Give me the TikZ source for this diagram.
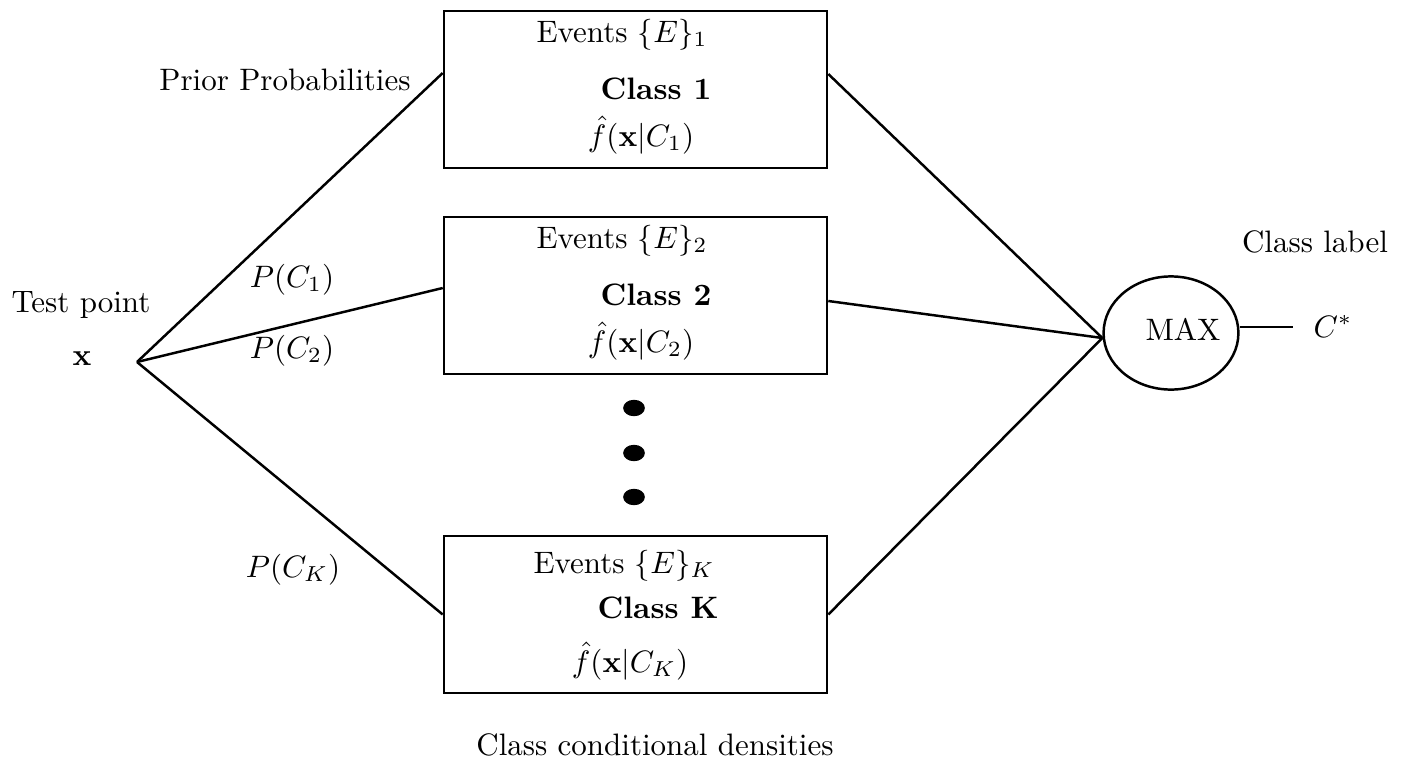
\documentclass[tikz,border=0pt]{standalone}
\usetikzlibrary{shapes.geometric,calc}
\begin{document}
\begin{tikzpicture}[x=0.3226pt,y=-0.3226pt,
  line width=0.8pt,
  classbox/.style={draw,rectangle,minimum width=123.6pt,minimum height=50.6pt,inner sep=0pt},
  lbl/.style={inner sep=0pt,anchor=base},
  dotmark/.style={ellipse,fill=black,inner sep=0pt,minimum width=7pt,minimum height=5.3pt},
  wire/.style={line width=0.8pt}]
\useasboundingbox (0,0) rectangle (1410,766);

% class boxes
\node[classbox] (b1) at (635.5,89.5) {};
\node[classbox] (b2) at (635.5,295.5) {};
\node[classbox] (bK) at (635.5,614.5) {};

% box contents
\node[lbl] (e1) at (622,42) {Events $\{E\}_1$};
\node[lbl] (c1) at (656,99) {\textbf{Class 1}};
\node[lbl] (f1) at (641,146) {$\hat f(\mathbf{x}|C_1)$};

\node[lbl] (e2) at (622,248) {Events $\{E\}_2$};
\node[lbl] (c2) at (656,305) {\textbf{Class 2}};
\node[lbl] (f2) at (641,352) {$\hat f(\mathbf{x}|C_2)$};

\node[lbl] (eK) at (624,573) {Events $\{E\}_K$};
\node[lbl] (cK) at (658,618) {\textbf{Class K}};
\node[lbl] (fK) at (630,672) {$\hat f(\mathbf{x}|C_K)$};

% ellipsis between the boxes
\node[dotmark] (d1) at (634,408) {};
\node[dotmark] (d2) at (634,453) {};
\node[dotmark] (d3) at (634,497) {};

% max selector
\node[draw,ellipse,minimum width=43.5pt,minimum height=36.5pt,inner sep=0pt] (m) at (1171,333) {};
\node[lbl] (mt) at (1183,340) {MAX};

% labels
\node[lbl] (prior) at (285,90) {Prior Probabilities};
\node[lbl] (tp) at (81,312) {Test point};
\node[lbl] (xv) at (82,365) {$\mathbf{x}$};
\node[lbl] (p1) at (292,287) {$P(C_1)$};
\node[lbl] (p2) at (292,358) {$P(C_2)$};
\node[lbl] (pK) at (293,577) {$P(C_K)$};
\node[lbl] (cl) at (1315,252) {Class label};
\node[lbl] (cs) at (1333,337) {$C^*$};
\node[lbl] (ccd) at (655,755) {Class conditional densities};

% test point fan-out
\coordinate (v) at (137,362);
\draw[wire] (v) -- ($(b1.west)+(0,-16.5)$);
\draw[wire] (v) -- ($(b2.west)+(0,-7.5)$);
\draw[wire] (v) -- (bK.west);

% fan-in to MAX
\coordinate (mi) at ($(m.west)+(0,5)$);
\draw[wire] ($(b1.east)+(0,-15.5)$) -- (mi);
\draw[wire] ($(b2.east)+(0,5.5)$) -- (mi);
\draw[wire] (bK.east) -- (mi);

% output
\coordinate (out) at (1293,327);
\draw[wire] (m.east |- out) -- (out);
\end{tikzpicture}
\end{document}
